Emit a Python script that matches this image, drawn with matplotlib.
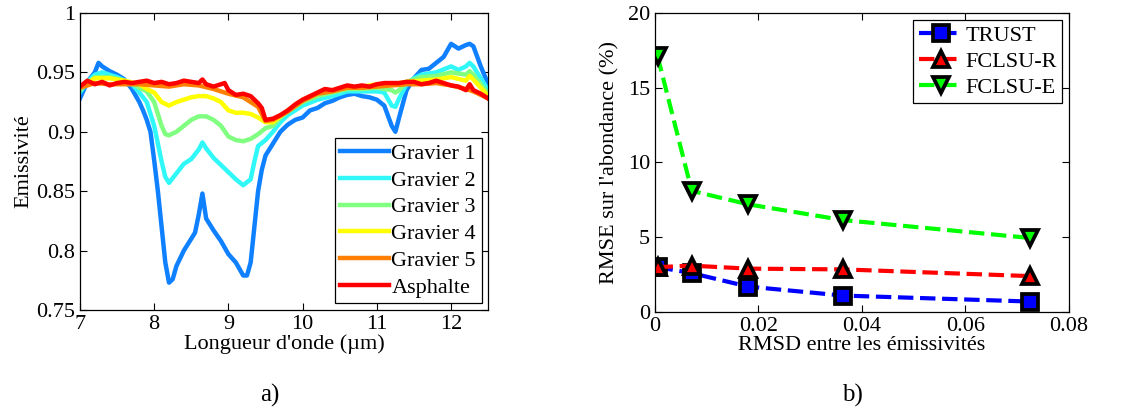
import matplotlib

matplotlib.use("Agg")
import matplotlib.pyplot as plt

plt.rcParams["font.family"] = "serif"
plt.rcParams["font.serif"] = ["Liberation Serif", "Times New Roman", "DejaVu Serif"]
plt.rcParams["mathtext.fontset"] = "stix"

# ---- panel a) emissivity spectra (values read off the picture) ----
wl_g1 = [7.0, 7.1, 7.2, 7.25, 7.3, 7.4, 7.5, 7.6, 7.7, 7.8, 7.85, 7.9, 7.95, 8.0, 8.05,
         8.1, 8.15, 8.2, 8.25, 8.3, 8.4, 8.5, 8.55, 8.6, 8.65, 8.7, 8.8, 8.9, 9.0, 9.1,
         9.2, 9.25, 9.3, 9.35, 9.4, 9.45, 9.5, 9.6, 9.7, 9.8, 9.9, 10.0, 10.1, 10.2, 10.3,
         10.4, 10.5, 10.6, 10.7, 10.8, 10.9, 11.0, 11.1, 11.2, 11.25, 11.3, 11.4, 11.5,
         11.6, 11.7, 11.8, 11.9, 12.0, 12.1, 12.2, 12.25, 12.3, 12.4, 12.5]
em_g1 = [0.928, 0.942, 0.950, 0.958, 0.955, 0.951, 0.948, 0.944, 0.936, 0.925, 0.918,
         0.910, 0.900, 0.876, 0.850, 0.820, 0.790, 0.773, 0.776, 0.787, 0.800, 0.810,
         0.815, 0.830, 0.848, 0.827, 0.817, 0.808, 0.797, 0.790, 0.779, 0.779, 0.790,
         0.820, 0.850, 0.868, 0.880, 0.890, 0.900, 0.906, 0.910, 0.912, 0.918, 0.920,
         0.924, 0.926, 0.929, 0.931, 0.932, 0.930, 0.929, 0.927, 0.922, 0.905, 0.900,
         0.912, 0.935, 0.945, 0.952, 0.953, 0.958, 0.963, 0.974, 0.970, 0.973, 0.974,
         0.972, 0.955, 0.940]

wl_g2 = [7.0, 7.1, 7.2, 7.3, 7.4, 7.5, 7.6, 7.7, 7.8, 7.9, 8.0, 8.05, 8.1, 8.15, 8.2,
         8.3, 8.4, 8.5, 8.6, 8.65, 8.7, 8.8, 8.9, 9.0, 9.1, 9.2, 9.3, 9.35, 9.4, 9.5,
         9.6, 9.7, 9.8, 9.9, 10.0, 10.2, 10.4, 10.6, 10.8, 11.0, 11.1, 11.2, 11.25, 11.3,
         11.4, 11.5, 11.6, 11.8, 12.0, 12.1, 12.2, 12.25, 12.3, 12.4, 12.5]
em_g2 = [0.933, 0.942, 0.948, 0.950, 0.948, 0.946, 0.943, 0.940, 0.933, 0.925, 0.905,
         0.890, 0.875, 0.862, 0.857, 0.865, 0.873, 0.877, 0.885, 0.891, 0.886, 0.878,
         0.872, 0.866, 0.860, 0.855, 0.860, 0.875, 0.888, 0.893, 0.900, 0.908, 0.914,
         0.918, 0.922, 0.927, 0.930, 0.934, 0.934, 0.934, 0.933, 0.922, 0.921, 0.928,
         0.940, 0.945, 0.948, 0.950, 0.955, 0.952, 0.955, 0.958, 0.955, 0.945, 0.935]

wl_g3 = [7.0, 7.2, 7.4, 7.6, 7.7, 7.8, 7.9, 8.0, 8.1, 8.15, 8.2, 8.3, 8.4, 8.5, 8.6,
         8.7, 8.8, 8.9, 9.0, 9.1, 9.2, 9.3, 9.4, 9.5, 9.6, 9.7, 9.8, 10.0, 10.2, 10.4,
         10.6, 10.8, 11.0, 11.2, 11.25, 11.3, 11.4, 11.5, 11.6, 11.8, 12.0, 12.2, 12.25,
         12.3, 12.5]
em_g3 = [0.935, 0.946, 0.946, 0.943, 0.941, 0.937, 0.934, 0.925, 0.905, 0.898, 0.897,
         0.900, 0.905, 0.910, 0.913, 0.913, 0.910, 0.905, 0.896, 0.893, 0.892, 0.894,
         0.898, 0.903, 0.905, 0.912, 0.917, 0.925, 0.930, 0.933, 0.936, 0.936, 0.937,
         0.935, 0.933, 0.935, 0.942, 0.944, 0.946, 0.947, 0.950, 0.948, 0.951, 0.948,
         0.932]

wl_g4 = [7.0, 7.2, 7.4, 7.6, 7.8, 7.9, 8.0, 8.1, 8.2, 8.3, 8.4, 8.5, 8.6, 8.7, 8.8,
         8.9, 9.0, 9.1, 9.2, 9.3, 9.4, 9.5, 9.6, 9.7, 9.8, 10.0, 10.2, 10.4, 10.6, 10.8,
         11.0, 11.2, 11.4, 11.6, 11.8, 12.0, 12.2, 12.25, 12.3, 12.5]
em_g4 = [0.937, 0.945, 0.945, 0.943, 0.940, 0.936, 0.933, 0.925, 0.922, 0.925, 0.927,
         0.929, 0.930, 0.930, 0.928, 0.925, 0.918, 0.916, 0.916, 0.915, 0.912, 0.908,
         0.908, 0.913, 0.918, 0.927, 0.932, 0.935, 0.937, 0.938, 0.940, 0.940, 0.942,
         0.943, 0.944, 0.946, 0.943, 0.947, 0.944, 0.930]

wl_g5 = [7.0, 7.2, 7.4, 7.6, 7.8, 8.0, 8.2, 8.4, 8.6, 8.8, 9.0, 9.2, 9.4, 9.5, 9.6,
         9.8, 10.0, 10.2, 10.4, 10.6, 10.8, 11.0, 11.2, 11.4, 11.6, 11.8, 12.0, 12.2,
         12.3, 12.5]
em_g5 = [0.937, 0.941, 0.940, 0.940, 0.940, 0.939, 0.938, 0.940, 0.939, 0.936, 0.932,
         0.929, 0.921, 0.909, 0.910, 0.917, 0.926, 0.932, 0.934, 0.937, 0.937, 0.938,
         0.939, 0.940, 0.940, 0.941, 0.939, 0.936, 0.934, 0.928]

wl_asph = [7.0, 7.1, 7.2, 7.3, 7.4, 7.5, 7.6, 7.7, 7.8, 7.9, 8.0, 8.1, 8.2, 8.3, 8.4,
           8.5, 8.6, 8.65, 8.7, 8.8, 8.9, 8.95, 9.0, 9.1, 9.2, 9.3, 9.4, 9.45, 9.5, 9.6,
           9.7, 9.8, 9.9, 10.0, 10.1, 10.2, 10.3, 10.4, 10.5, 10.6, 10.7, 10.8, 10.9,
           11.0, 11.1, 11.2, 11.3, 11.4, 11.5, 11.6, 11.7, 11.8, 11.9, 12.0, 12.1, 12.2,
           12.25, 12.3, 12.4, 12.5]
em_asph = [0.938, 0.943, 0.940, 0.942, 0.939, 0.941, 0.942, 0.941, 0.942, 0.943, 0.941,
           0.942, 0.940, 0.941, 0.943, 0.942, 0.941, 0.944, 0.940, 0.938, 0.940, 0.941,
           0.935, 0.931, 0.932, 0.930, 0.924, 0.920, 0.910, 0.911, 0.914, 0.918, 0.923,
           0.927, 0.930, 0.933, 0.936, 0.935, 0.937, 0.939, 0.938, 0.939, 0.938, 0.940,
           0.941, 0.941, 0.941, 0.942, 0.942, 0.940, 0.941, 0.943, 0.941, 0.939, 0.938,
           0.935, 0.940, 0.935, 0.932, 0.928]

spectra_labels = ["Gravier 1", "Gravier 2", "Gravier 3", "Gravier 4", "Gravier 5", "Asphalte"]
spectra_colors = ["#0F80FF", "#30F8F8", "#80FF80", "#FFFF00", "#FF8000", "#FF0000"]

# ---- panel b) abundance RMSE vs emissivity RMSD ----
rmsd = [0.0005, 0.0071, 0.018, 0.0363, 0.0725]
rmse_trust = [3.0, 2.6, 1.7, 1.1, 0.7]
rmse_fclsu_r = [3.0, 3.1, 2.9, 2.85, 2.4]
rmse_fclsu_e = [17.1, 8.1, 7.2, 6.15, 4.95]


def _style_axes(ax):
    ax.tick_params(direction="in", top=True, right=True, labelsize=16, length=5, width=0.8)
    for s in ax.spines.values():
        s.set_linewidth(0.9)


fig = plt.figure(figsize=(11.34, 4.12), dpi=100)
ax_a = fig.add_axes([0.0705, 0.2476, 0.36, 0.721])
ax_b = fig.add_axes([0.5776, 0.2427, 0.365, 0.726])

series = [(wl_g1, em_g1), (wl_g2, em_g2), (wl_g3, em_g3),
          (wl_g4, em_g4), (wl_g5, em_g5), (wl_asph, em_asph)]
for (wl, em), lab, col in zip(series, spectra_labels, spectra_colors):
    ax_a.plot(wl, em, color=col, lw=3.2, label=lab)

ax_a.set_xlim(7, 12.5)
ax_a.set_ylim(0.75, 1.0)
ax_a.set_xticks([7, 8, 9, 10, 11, 12])
ax_a.set_yticks([0.75, 0.8, 0.85, 0.9, 0.95, 1.0])
ax_a.set_yticklabels(["0.75", "0.8", "0.85", "0.9", "0.95", "1"])
ax_a.set_xlabel("Longueur d'onde (µm)", fontsize=16, labelpad=0)
ax_a.set_ylabel("Emissivité", fontsize=16, labelpad=2)
_style_axes(ax_a)
leg_a = ax_a.legend(loc="lower right", fontsize=16, handlelength=2.2, handletextpad=0.1,
                    labelspacing=0.28, borderpad=0.25, borderaxespad=0.3, fancybox=False,
                    framealpha=1)
leg_a.get_frame().set_edgecolor("black")
leg_a.get_frame().set_linewidth(0.9)

mk = dict(markersize=12, markeredgecolor="black", markeredgewidth=2.7, lw=3, ls="--")
ax_b.plot(rmsd, rmse_trust, color="#0000FF", marker="s", markerfacecolor="#0000FF",
          label="TRUST", **mk)
ax_b.plot(rmsd, rmse_fclsu_r, color="#FF0000", marker="^", markerfacecolor="#FF0000",
          label="FCLSU-R", **mk)
ax_b.plot(rmsd, rmse_fclsu_e, color="#00FF00", marker="v", markerfacecolor="#00FF00",
          label="FCLSU-E", **mk)

ax_b.set_xlim(0, 0.08)
ax_b.set_ylim(0, 20)
ax_b.set_xticks([0, 0.02, 0.04, 0.06, 0.08])
ax_b.set_xticklabels(["0", "0.02", "0.04", "0.06", "0.08"])
ax_b.set_yticks([0, 5, 10, 15, 20])
ax_b.set_xlabel("RMSD entre les émissivités", fontsize=16, labelpad=0)
ax_b.set_ylabel("RMSE sur l'abondance (%)", fontsize=16, labelpad=6)
_style_axes(ax_b)
leg_b = ax_b.legend(loc="upper right", fontsize=16, handlelength=2.0, handletextpad=0.1,
                    labelspacing=0.25, borderpad=0.25, borderaxespad=0.3, fancybox=False,
                    framealpha=1)
leg_b.get_frame().set_edgecolor("black")
leg_b.get_frame().set_linewidth(0.9)

fig.text(270 / 1134, 1 - 395 / 412, "a)", fontsize=18, ha="center", va="center")
fig.text(852 / 1134, 1 - 395 / 412, "b)", fontsize=18, ha="center", va="center")

fig.savefig("out.png", dpi=100)
